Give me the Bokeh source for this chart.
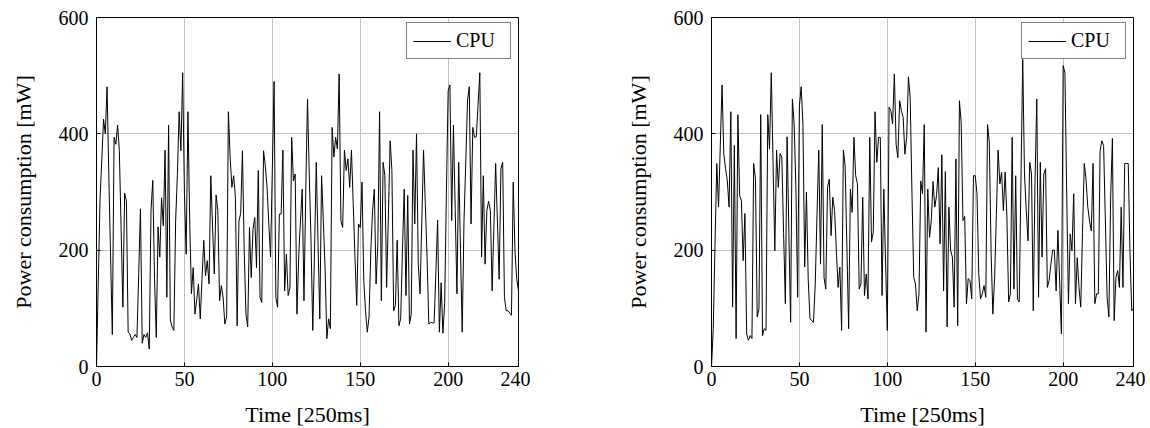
from bokeh.plotting import figure
from bokeh.layouts import row
from bokeh.models import FixedTicker, Legend, LegendItem, Range1d
from bokeh.embed import file_html
from bokeh.resources import INLINE

# ---------------- data ----------------
time_left = list(range(241))
cpu_left = [
    0, 143, 286, 355, 425, 400, 481, 330, 190, 55,
    394, 382, 415, 371, 236, 102, 298, 285, 59, 56,
    45, 50, 55, 50, 160, 271, 40, 55, 50, 58,
    30, 268, 320, 150, 50, 240, 188, 290, 242, 372,
    119, 415, 80, 68, 62, 250, 330, 438, 371, 505,
    300, 193, 438, 250, 125, 170, 90, 115, 142, 82,
    150, 217, 156, 182, 142, 328, 240, 159, 295, 268,
    113, 139, 119, 73, 85, 438, 360, 308, 328, 291,
    70, 250, 263, 371, 200, 90, 68, 239, 153, 236,
    256, 170, 337, 119, 110, 371, 345, 308, 245, 188,
    340, 490, 119, 102, 262, 262, 372, 130, 193, 122,
    135, 394, 319, 331, 90, 190, 250, 305, 113, 300,
    460, 330, 216, 62, 200, 351, 210, 82, 328, 250,
    170, 48, 82, 65, 411, 360, 394, 374, 503, 251,
    239, 372, 337, 357, 308, 372, 280, 188, 105, 245,
    239, 317, 148, 96, 59, 85, 199, 268, 305, 142,
    211, 438, 113, 351, 328, 136, 260, 388, 337, 96,
    105, 217, 70, 82, 200, 305, 122, 294, 73, 90,
    372, 245, 400, 176, 125, 250, 372, 280, 188, 73,
    76, 75, 75, 160, 252, 59, 144, 57, 108, 300,
    474, 484, 251, 415, 270, 125, 351, 200, 59, 250,
    350, 457, 481, 245, 411, 394, 395, 450, 505, 188,
    328, 176, 268, 284, 268, 130, 240, 349, 250, 150,
    340, 351, 119, 96, 96, 92, 88, 317, 199, 150,
    130,
]

time_right = list(range(241))
cpu_right = [
    0, 65, 210, 349, 274, 380, 484, 365, 340, 319,
    274, 438, 102, 380, 48, 433, 294, 285, 182, 263,
    56, 45, 53, 48, 349, 322, 85, 99, 433, 53,
    65, 62, 433, 374, 505, 352, 199, 372, 308, 366,
    360, 230, 108, 395, 230, 76, 460, 417, 308, 119,
    448, 481, 417, 171, 300, 150, 82, 79, 76, 142,
    260, 372, 176, 416, 153, 133, 308, 322, 225, 291,
    268, 200, 136, 171, 62, 372, 345, 205, 65, 305,
    265, 394, 328, 314, 133, 142, 291, 122, 159, 116,
    394, 214, 231, 438, 351, 394, 394, 122, 305, 180,
    62, 446, 440, 417, 503, 382, 359, 457, 440, 428,
    365, 394, 498, 462, 300, 153, 142, 96, 125, 319,
    297, 416, 59, 305, 222, 251, 318, 274, 294, 342,
    211, 364, 130, 335, 68, 274, 200, 188, 102, 357,
    70, 457, 420, 251, 258, 108, 151, 148, 116, 328,
    328, 297, 159, 116, 125, 139, 119, 416, 385, 199,
    90, 151, 260, 372, 314, 334, 268, 334, 257, 111,
    125, 394, 133, 328, 116, 111, 320, 528, 331, 270,
    216, 351, 331, 96, 319, 460, 119, 351, 188, 331,
    340, 136, 148, 175, 200, 200, 130, 234, 145, 56,
    517, 505, 300, 108, 228, 199, 297, 108, 187, 136,
    102, 230, 349, 322, 274, 250, 233, 349, 108, 125,
    125, 371, 388, 380, 250, 119, 85, 291, 392, 79,
    153, 165, 136, 274, 136, 349, 349, 349, 196, 96,
    100,
]

x_ticks = [0, 50, 100, 150, 200, 240]
y_ticks = [0, 200, 400, 600]
x_label = "Time [250ms]"
y_label = "Power consumption [mW]"
series_label = "CPU"

FONT = "Liberation Serif"
TICK_FS = "20px"
LABEL_FS = "22px"
GRID = "#bfbfbf"


def make_panel(x, y, left_border, right_border):
    p = figure(frame_width=422, frame_height=349,
               x_range=Range1d(0, 240), y_range=Range1d(0, 600),
               output_backend="svg", toolbar_location=None,
               min_border_left=left_border, min_border_right=right_border,
               min_border_top=17, min_border_bottom=55)
    p.background_fill_color = "white"
    p.border_fill_color = "white"
    p.outline_line_color = "black"
    p.outline_line_width = 1

    r = p.line(x, y, line_color="black", line_width=1)

    for ax in (p.xaxis[0], p.yaxis[0]):
        ax.major_label_text_font = FONT
        ax.major_label_text_font_size = TICK_FS
        ax.major_label_text_color = "black"
        ax.axis_label_text_font = FONT
        ax.axis_label_text_font_size = LABEL_FS
        ax.axis_label_text_font_style = "normal"
        ax.axis_label_text_color = "black"
        ax.major_tick_in = 4
        ax.major_tick_out = 0
        ax.minor_tick_line_color = None
        ax.axis_line_color = "black"
        ax.major_tick_line_color = "black"

    p.xaxis[0].ticker = FixedTicker(ticks=x_ticks)
    p.yaxis[0].ticker = FixedTicker(ticks=y_ticks)
    p.xaxis[0].axis_label = x_label
    p.yaxis[0].axis_label = y_label
    p.xaxis[0].major_label_standoff = 5
    p.xaxis[0].axis_label_standoff = 13
    p.yaxis[0].major_label_standoff = 8
    p.yaxis[0].axis_label_standoff = 20

    p.xgrid.ticker = FixedTicker(ticks=x_ticks)
    p.ygrid.ticker = FixedTicker(ticks=y_ticks)
    p.xgrid.grid_line_color = GRID
    p.ygrid.grid_line_color = GRID
    p.xgrid.grid_line_width = 1
    p.ygrid.grid_line_width = 1

    legend = Legend(items=[LegendItem(label=series_label, renderers=[r])],
                    location=(310, 307), margin=0, padding=6, spacing=0,
                    glyph_width=38, glyph_height=22, label_width=48, label_height=22,
                    label_standoff=5, border_line_color="black", border_line_width=1,
                    background_fill_color="white", background_fill_alpha=1.0,
                    label_text_font=FONT, label_text_font_size=TICK_FS,
                    label_text_color="black")
    p.add_layout(legend)
    return p


p1 = make_panel(time_left, cpu_left, 96, 12)
p2 = make_panel(time_right, cpu_right, 181, 12)
layout = row(p1, p2)

open("out.html", "w").write(file_html(layout, INLINE))
